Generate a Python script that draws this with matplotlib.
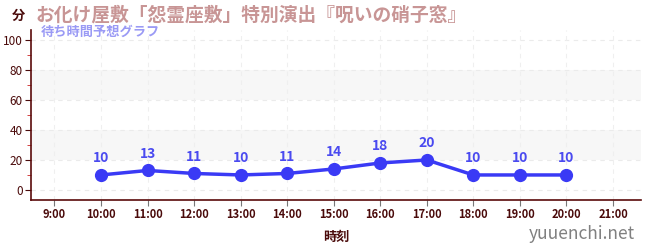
import matplotlib
matplotlib.use("Agg")
import matplotlib.pyplot as plt
from matplotlib.ticker import MultipleLocator

plt.rcParams['font.family'] = ['Noto Sans CJK JP', 'DejaVu Sans']

hours = [10, 11, 12, 13, 14, 15, 16, 17, 18, 19, 20]
waits = [10, 13, 11, 10, 11, 14, 18, 20, 10, 10, 10]
xtick_hours = list(range(9, 22))
xtick_labels = [f"{h}:00" for h in xtick_hours]
yticks = [0, 20, 40, 60, 80, 100]

title = "お化け屋敷「怨霊座敷」特別演出『呪いの硝子窓』"
subtitle = "待ち時間予想グラフ"

fig = plt.figure(figsize=(6.5, 2.5), dpi=100)
ax = fig.add_axes([0.048, 0.2, 0.938, 0.68])

ax.set_xlim(8.5, 21.6)
ax.set_ylim(-6.7, 106.7)

for lo, hi in [(20, 40), (60, 80)]:
    ax.axhspan(lo, hi, color='#f7f7f7', zorder=0, lw=0)

for y in yticks:
    ax.axhline(y, color='#ebebeb', lw=0.8, ls=(0, (4, 4)), zorder=1)
for h in xtick_hours:
    ax.axvline(h, color='#efefef', lw=0.8, ls=(0, (4, 4)), zorder=1)

line_color = '#3a3af5'
ax.plot(hours, waits, color=line_color, lw=2.5, marker='o', ms=8.5, zorder=3)
for h, w in zip(hours, waits):
    ax.annotate(str(w), (h, w), xytext=(0, 7), textcoords='offset points',
                ha='center', va='bottom', color='#4a4af0', fontsize=10,
                fontweight='bold')

dark = '#4a0a0a'
ax.set_xticks(xtick_hours)
ax.set_xticklabels(xtick_labels, fontsize=8, fontweight='bold', color=dark)
ax.set_yticks(yticks)
ax.set_yticklabels([str(v) for v in yticks], fontsize=8.5, color=dark)
ax.yaxis.set_minor_locator(MultipleLocator(10))
ax.tick_params(axis='y', which='minor', length=3, color='#cc2222')
ax.tick_params(axis='y', which='major', length=4, color=dark, pad=2)
ax.tick_params(axis='x', which='major', length=4, color='#777777', pad=2)

for s in ['top', 'right']:
    ax.spines[s].set_visible(False)
ax.spines['left'].set_color('#5a0a0a')
ax.spines['bottom'].set_color('#5a0a0a')
ax.spines['left'].set_linewidth(1.2)
ax.spines['bottom'].set_linewidth(1.2)

ax.set_xlabel("時刻", fontsize=9.5, color=dark, fontweight='bold', labelpad=6)

fig.text(0.018, 0.935, "分", fontsize=9.5, color=dark, fontweight='bold', va='center')
fig.text(0.054, 0.94, title, fontsize=13.5, color='#c89595', fontweight='bold', va='center')
fig.text(0.062, 0.872, subtitle, fontsize=9.5, color='#9a9af5', fontweight='bold', va='center')
fig.text(0.977, 0.065, "yuuenchi.net", fontsize=12.5, color='#808080', ha='right', va='center')

fig.savefig("out.png", dpi=100)
